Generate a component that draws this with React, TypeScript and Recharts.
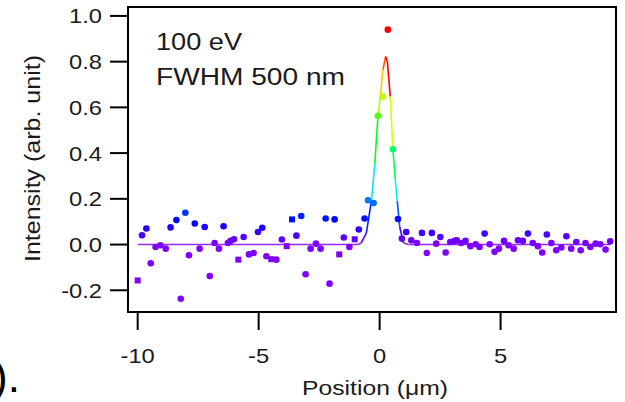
import React from 'react';
import { ComposedChart, XAxis, YAxis, Scatter, Line, ReferenceArea, Customized } from 'recharts';

// ---- data ----
const positions = [
  -10.0, -9.82, -9.64, -9.46, -9.26, -9.06, -8.84, -8.64, -8.4, -8.22,
  -8.03, -7.88, -7.64, -7.44, -7.23, -7.02, -6.82, -6.64, -6.45, -6.27,
  -6.16, -6.02, -5.84, -5.62, -5.4, -5.21, -5.03, -4.85, -4.68, -4.48,
  -4.27, -4.04, -3.84, -3.62, -3.44, -3.24, -3.06, -2.85, -2.63, -2.44,
  -2.23, -2.07, -1.86, -1.67, -1.48, -1.25, -1.03, -0.86, -0.62, -0.48,
  -0.25, -0.07, 0.14, 0.34, 0.55, 0.76, 0.92, 1.1, 1.31, 1.54,
  1.75, 1.95, 2.16, 2.34, 2.51, 2.73, 2.92, 3.1, 3.19, 3.37,
  3.55, 3.75, 3.97, 4.13, 4.34, 4.55, 4.75, 4.93, 5.14, 5.33,
  5.54, 5.72, 5.92, 6.13, 6.33, 6.54, 6.72, 6.91, 7.1, 7.3,
  7.51, 7.72, 7.92, 8.13, 8.31, 8.51, 8.71, 8.93, 9.12, 9.34, 9.53,
];
const intensities = [
  -0.157, 0.041, 0.07, -0.082, -0.011, -0.003, -0.018, 0.075, 0.107, -0.237,
  0.139, -0.047, 0.092, -0.018, 0.077, -0.138, 0.007, -0.018, 0.08, 0.007,
  0.016, 0.023, -0.066, 0.033, -0.043, -0.037, 0.055, 0.073, -0.051, -0.064,
  -0.066, 0.022, -0.007, 0.11, 0.039, 0.125, -0.13, -0.018, 0.004, -0.018,
  0.114, -0.171, 0.11, -0.043, 0.031, -0.011, 0.023, 0.066, 0.114, 0.194,
  0.182, 0.563, 0.647, 0.94, 0.417, 0.112, 0.026, 0.055, 0.019, 0.007,
  0.051, -0.037, 0.051, 0.004, 0.033, -0.035, 0.011, 0.016, 0.019, 0.007,
  0.016, -0.007, 0.001, -0.011, 0.048, 0.001, -0.032, -0.018, 0.016, -0.003,
  -0.018, 0.019, 0.016, 0.048, 0.007, -0.007, -0.035, 0.044, 0.007, -0.025,
  -0.013, 0.036, -0.018, 0.011, -0.025, 0.007, -0.011, 0.004, 0.001, -0.022, 0.014,
];
const squarePositions = [-10.0, -5.84, -4.48, -3.84, -3.62, -1.67, -1.03];

const fitX = [-10, -0.9, -0.76, -0.55, -0.34, -0.2, -0.07, 0.03, 0.14, 0.25, 0.32, 0.44, 0.55, 0.65, 0.73, 0.83, 0.99, 1.2, 9.55];
const fitY = [0, 0, 0.007, 0.05, 0.19, 0.35, 0.56, 0.65, 0.765, 0.823, 0.8, 0.647, 0.417, 0.28, 0.19, 0.077, 0.007, 0, 0];

const xTicks = [-10, -5, 0, 5];
const yTicks = [-0.2, 0, 0.2, 0.4, 0.6, 0.8, 1.0];
const xDomain: [number, number] = [-10.4, 9.77];
const yDomain: [number, number] = [-0.295, 1.039];

const annotationLines = ['100 eV', 'FWHM 500 nm'];
const xTitle = 'Position (μm)';
const yTitle = 'Intensity (arb. unit)';
const panelLabel = ').';

// ---- derived tables ----
const points = positions.map((x, i) => ({ x, y: intensities[i], sq: squarePositions.includes(x) }));
const fitPts = fitX.map((x, i) => ({ x, y: fitY[i] }));
const peakX = fitX[fitY.indexOf(Math.max(...fitY))];
const segments = fitPts.slice(0, -1).map((p, i) => [p, fitPts[i + 1]]);

const FONT = '"Liberation Sans", Arial, Helvetica, sans-serif';
const clamp = (v: number, a: number, b: number) => Math.max(a, Math.min(b, v));
const hsl = (h: number) => `hsl(${h.toFixed(0)},100%,50%)`;
const pointColor = (v: number) => hsl(clamp(270 * (1 - v / 0.9), 0, 270));
const segColor = (seg: any[]) => {
  const v = (seg[0].y + seg[1].y) / 2;
  const xm = (seg[0].x + seg[1].x) / 2;
  if (v < 0.004) return 'hsl(270,100%,58%)';
  const scale = xm <= peakX ? 0.86 : 0.72;
  return hsl(clamp(270 * (1 - v / scale), 0, 270));
};

const PointShape = (props: any) => {
  const { cx, cy, payload } = props;
  if (cx == null || cy == null) return null;
  const c = pointColor(payload.y);
  if (payload.sq) return <rect x={cx - 3} y={cy - 3} width={6} height={6} fill={c} />;
  return <circle cx={cx} cy={cy} r={3.3} fill={c} />;
};

const XTick = (props: any) => {
  const { x, y, payload } = props;
  return (
    <text transform={`translate(${x},${y + 31}) scale(1.13,1)`} textAnchor="middle" fontSize={21} fontFamily={FONT} fill="#1a1a1a">
      {String(payload.value)}
    </text>
  );
};

const YTick = (props: any) => {
  const { x, y, payload } = props;
  return (
    <text transform={`translate(${x - 6},${y + 7.5}) scale(1.13,1)`} textAnchor="end" fontSize={21} fontFamily={FONT} fill="#1a1a1a">
      {Number(payload.value).toFixed(1)}
    </text>
  );
};

const Texts = () => (
  <g fontFamily={FONT} fill="#1a1a1a">
    <text x={156} y={50} fontSize={23} textLength={86} lengthAdjust="spacingAndGlyphs">{annotationLines[0]}</text>
    <text x={156} y={85} fontSize={23} textLength={189} lengthAdjust="spacingAndGlyphs">{annotationLines[1]}</text>
    <text x={302} y={395} fontSize={21} textLength={146} lengthAdjust="spacingAndGlyphs">{xTitle}</text>
    <text transform="translate(40,262) rotate(-90)" x={0} y={0} fontSize={22} textLength={207} lengthAdjust="spacingAndGlyphs">{yTitle}</text>
    <text x={-7} y={392} fontSize={44} fill="#000">{panelLabel}</text>
  </g>
);

export default function App() {
  return (
    <div style={{ position: 'absolute', left: 0, top: 0, width: 625, height: 402, background: '#fff' }}>
      <ComposedChart width={625} height={402} margin={{ top: 7, right: 9, bottom: 0, left: 0 }}>
        <XAxis
          dataKey="x"
          type="number"
          domain={xDomain}
          ticks={xTicks}
          allowDataOverflow
          height={90}
          tickSize={18}
          axisLine={{ stroke: '#000', strokeWidth: 2 }}
          tickLine={{ stroke: '#000', strokeWidth: 2 }}
          tick={<XTick />}
          interval={0}
        />
        <YAxis
          dataKey="y"
          type="number"
          domain={yDomain}
          ticks={yTicks}
          allowDataOverflow
          width={128}
          tickSize={18}
          axisLine={{ stroke: '#000', strokeWidth: 2 }}
          tickLine={{ stroke: '#000', strokeWidth: 2 }}
          tick={<YTick />}
          interval={0}
        />
        <ReferenceArea x1={xDomain[0]} x2={xDomain[1]} y1={yDomain[0]} y2={yDomain[1]} fill="none" stroke="#000" strokeWidth={2} ifOverflow="visible" />
        {segments.map((seg, i) => (
          <Line
            key={i}
            data={seg}
            dataKey="y"
            type="linear"
            stroke={segColor(seg)}
            strokeWidth={1.6}
            dot={false}
            activeDot={false}
            isAnimationActive={false}
          />
        ))}
        <Scatter data={points} dataKey="y" shape={<PointShape />} isAnimationActive={false} />
        <Customized component={<Texts />} />
      </ComposedChart>
    </div>
  );
}
